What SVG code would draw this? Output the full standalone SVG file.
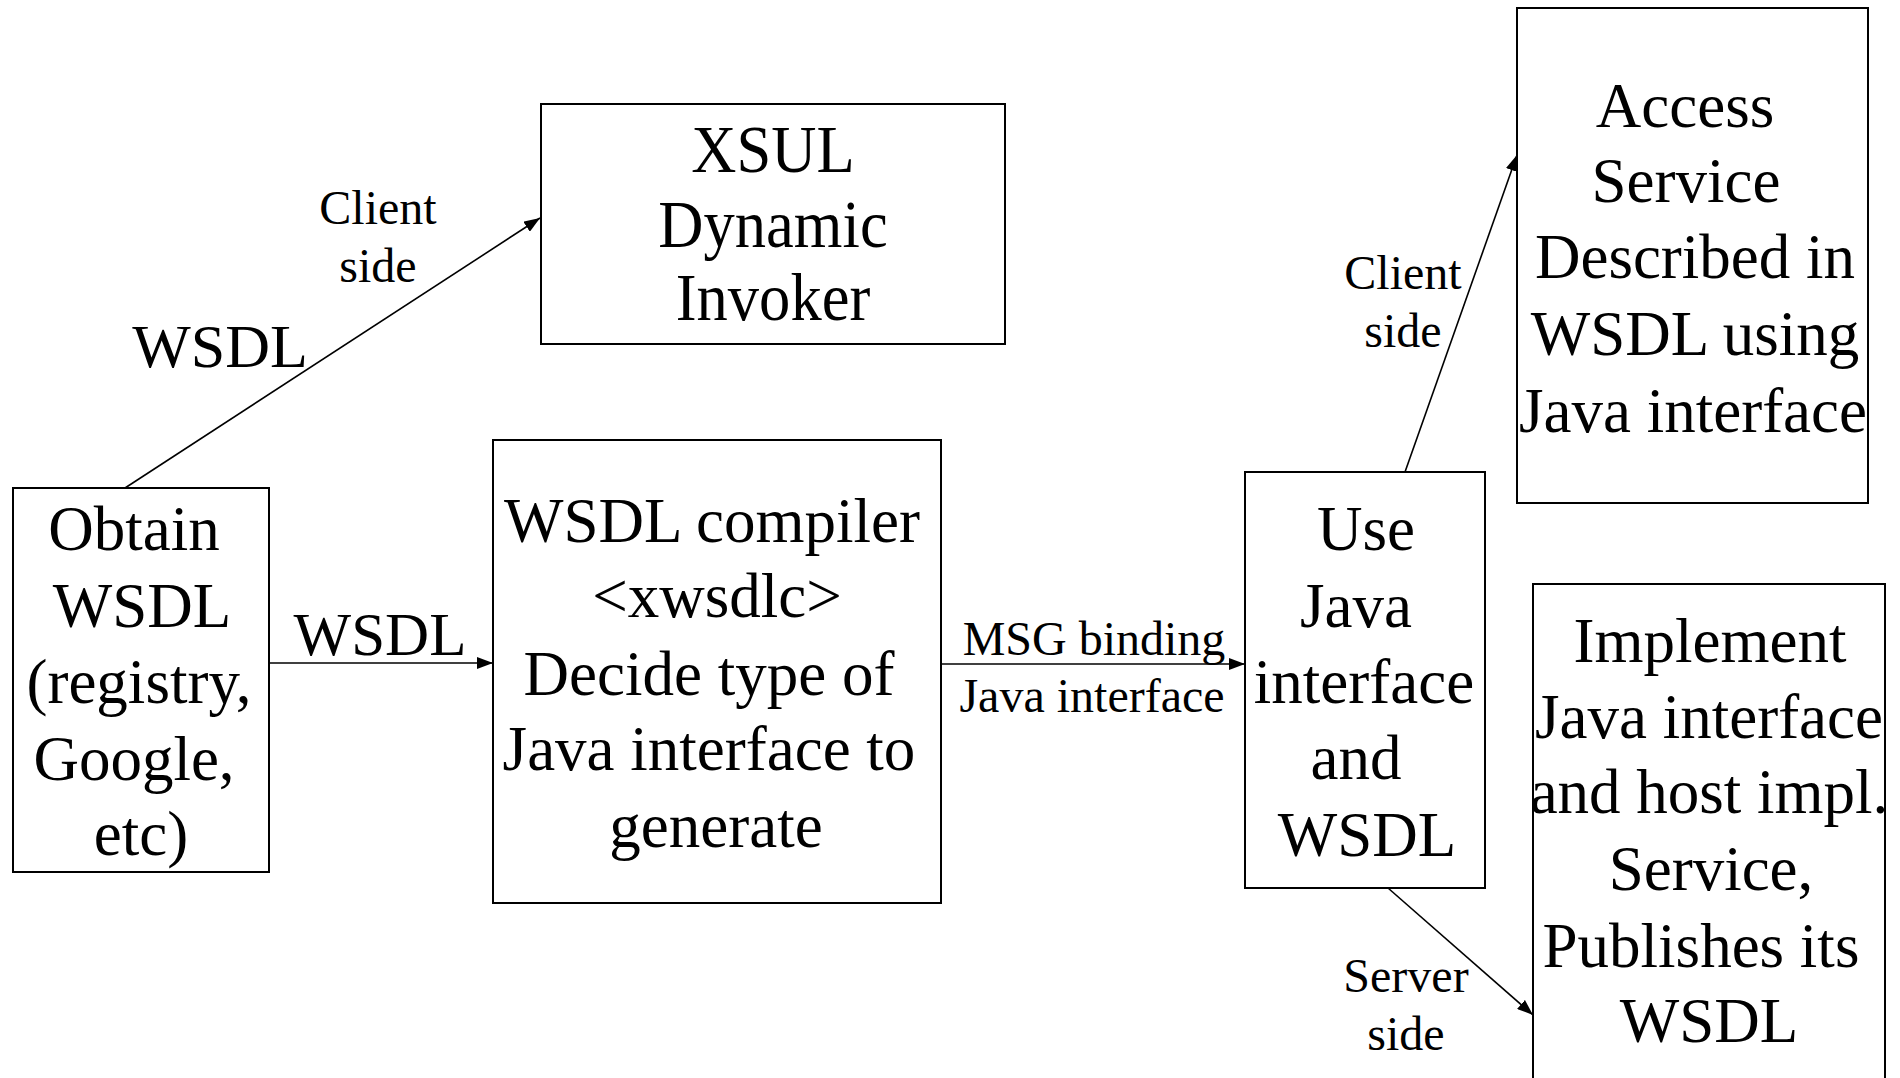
<svg xmlns="http://www.w3.org/2000/svg" width="1900" height="1078" viewBox="0 0 1900 1078">
<style>
  .box { fill: #ffffff; stroke: #000000; stroke-width: 2; }
  .conn { fill: none; stroke: #000000; stroke-width: 1.6; marker-end: url(#arrow); }
  text { font-family: "Liberation Serif", "Times New Roman", serif; fill: #000000; text-anchor: middle; }
  .big { font-size: 63px; }
  .lbl { font-size: 48px; }
</style>
<defs>
  <marker id="arrow" markerUnits="userSpaceOnUse" markerWidth="16" markerHeight="12" refX="16" refY="6" orient="auto">
    <path d="M0,0 L16,6 L0,12 z" fill="#000000"/>
  </marker>
</defs>
<rect width="1900" height="1078" fill="#ffffff"/>

<g id="connectors">
  <line class="conn" x1="125" y1="488" x2="540" y2="218"/>
  <line class="conn" x1="269" y1="663" x2="493" y2="663"/>
  <line class="conn" x1="941" y1="664" x2="1245" y2="664"/>
  <line class="conn" x1="1405" y1="472" x2="1517" y2="155"/>
  <line class="conn" x1="1388" y1="888" x2="1533" y2="1015"/>
  <text class="lbl" x="378" y="224">Client</text>
  <text class="lbl" x="378" y="282">side</text>
  <text class="big" x="220" y="367" style="font-size:62px">WSDL</text>
  <text class="big" x="380" y="655" style="font-size:61px">WSDL</text>
  <text class="lbl" x="1094" y="655">MSG binding</text>
  <text class="lbl" x="1092" y="712">Java interface</text>
  <text class="lbl" x="1403" y="289">Client</text>
  <text class="lbl" x="1403" y="347">side</text>
  <text class="lbl" x="1406" y="992">Server</text>
  <text class="lbl" x="1406" y="1050">side</text>
</g>

<g id="node-obtain">
  <rect class="box" x="13" y="488" width="256" height="384"/>
  <text class="big" x="134" y="550">Obtain</text>
  <text class="big" x="142" y="627">WSDL</text>
  <text class="big" x="139" y="703">(registry,</text>
  <text class="big" x="134" y="780">Google,</text>
  <text class="big" x="141" y="855">etc)</text>
</g>

<g id="node-xsul">
  <rect class="box" x="541" y="104" width="464" height="240"/>
  <text transform="translate(773,172) scale(0.92,1)" style="font-size:68px">XSUL</text>
  <text transform="translate(773,247) scale(0.92,1)" style="font-size:68px">Dynamic</text>
  <text transform="translate(773,320) scale(0.92,1)" style="font-size:68px">Invoker</text>
</g>

<g id="node-compiler">
  <rect class="box" x="493" y="440" width="448" height="463"/>
  <text class="big" x="712" y="542">WSDL compiler</text>
  <text class="big" x="717" y="617">&lt;xwsdlc&gt;</text>
  <text class="big" x="709" y="695">Decide type of</text>
  <text class="big" x="709" y="770">Java interface to</text>
  <text class="big" x="716" y="847">generate</text>
</g>

<g id="node-use">
  <rect class="box" x="1245" y="472" width="240" height="416"/>
  <text class="big" x="1366" y="550">Use</text>
  <text class="big" x="1356" y="627">Java</text>
  <text class="big" x="1364" y="703">interface</text>
  <text class="big" x="1356" y="779">and</text>
  <text class="big" x="1367" y="856">WSDL</text>
</g>

<g id="node-access">
  <rect class="box" x="1517" y="8" width="351" height="495"/>
  <text class="big" x="1685" y="127">Access</text>
  <text class="big" x="1686" y="202">Service</text>
  <text class="big" x="1695" y="278">Described in</text>
  <text class="big" x="1695" y="355">WSDL using</text>
  <text class="big" x="1693" y="432">Java interface</text>
</g>

<g id="node-implement">
  <rect class="box" x="1533" y="584" width="352" height="520"/>
  <text class="big" x="1710" y="662">Implement</text>
  <text class="big" x="1709" y="738">Java interface</text>
  <text class="big" x="1709" y="813">and host impl.</text>
  <text class="big" x="1711" y="890">Service,</text>
  <text class="big" x="1701" y="967">Publishes its</text>
  <text class="big" x="1709" y="1042">WSDL</text>
</g>
</svg>
